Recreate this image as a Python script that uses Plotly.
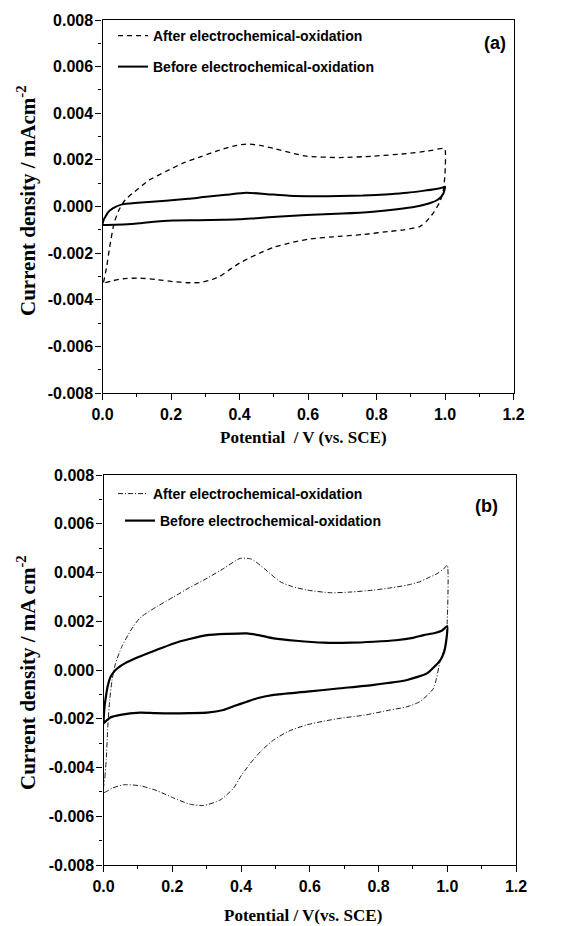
import plotly.graph_objects as go

# ---------------- data ----------------
# panel (a)
V_after_a = [0.003, 0.012, 0.021, 0.034, 0.048, 0.066, 0.094, 0.137, 0.185, 0.235, 0.29, 0.342, 0.38, 0.42,
             0.46, 0.5, 0.55, 0.595, 0.692, 0.79, 0.887, 0.95, 0.994, 1.0, 1.0, 0.995, 0.985, 0.965, 0.945,
             0.926, 0.88, 0.838, 0.76, 0.692, 0.6, 0.546, 0.5, 0.459, 0.43, 0.40, 0.37, 0.342, 0.31, 0.284,
             0.25, 0.206, 0.16, 0.109, 0.06, 0.025, 0.003]
J_after_a = [-0.00325, -0.0026, -0.00173, -0.00071, -0.00015, 0.00028, 0.00064, 0.00114, 0.0015, 0.00186,
             0.00215, 0.00242, 0.00258, 0.00268, 0.00262, 0.00249, 0.0023, 0.00216, 0.0021, 0.00216, 0.00227,
             0.00238, 0.00249, 0.00245, 0.0014, 0.0007, 0.0002, -0.00029, -0.00065, -0.00086, -0.001,
             -0.00107, -0.0012, -0.00128, -0.0014, -0.00157, -0.00175, -0.002, -0.0022, -0.00243, -0.00272,
             -0.003, -0.00318, -0.00326, -0.00327, -0.00322, -0.00314, -0.00307, -0.0031, -0.0032, -0.00329]

V_before_a = [0.0, 0.004, 0.01, 0.016, 0.03, 0.057, 0.103, 0.185, 0.25, 0.303, 0.36, 0.42, 0.48, 0.546, 0.62,
              0.692, 0.76, 0.838, 0.89, 0.935, 0.969, 0.99, 1.0, 0.995, 0.98, 0.955, 0.916, 0.86, 0.79, 0.7,
              0.595, 0.52, 0.449, 0.4, 0.352, 0.28, 0.206, 0.15, 0.109, 0.06, 0.012, 0.0]
J_before_a = [-0.00075, -0.00055, -0.0004, -0.00025, -0.00008, 0.00009, 0.00016, 0.00025, 0.00033, 0.00042,
              0.0005, 0.00059, 0.00053, 0.00046, 0.00044, 0.00045, 0.00047, 0.00053, 0.00059, 0.00067,
              0.00074, 0.0008, 0.00085, 0.00055, 0.0003, 0.00014, 0.0, -0.00012, -0.00022, -0.0003,
              -0.00036, -0.00043, -0.0005, -0.00055, -0.00057, -0.00059, -0.0006, -0.00065, -0.00072,
              -0.00077, -0.00079, -0.00079]

# panel (b)
V_after_b = [0.0, 0.004, 0.008, 0.012, 0.018, 0.025, 0.035, 0.053, 0.08, 0.107, 0.155, 0.204, 0.25, 0.301,
             0.35, 0.398, 0.43, 0.456, 0.485, 0.514, 0.55, 0.592, 0.66, 0.72, 0.786, 0.84, 0.883, 0.92,
             0.941, 0.97, 0.99, 1.0, 1.0, 0.995, 0.98, 0.96, 0.92, 0.88, 0.834, 0.76, 0.689, 0.64, 0.592,
             0.54, 0.495, 0.46, 0.427, 0.4, 0.378, 0.34, 0.291, 0.25, 0.204, 0.155, 0.107, 0.058, 0.025, 0.0]
J_after_b = [-0.00503, -0.0044, -0.00369, -0.00246, -0.00123, -0.00041, 0.00027, 0.00095, 0.00164, 0.00215,
             0.0026, 0.003, 0.00338, 0.00376, 0.00417, 0.00458, 0.00455, 0.0043, 0.00395, 0.00362, 0.00342,
             0.00328, 0.00317, 0.0032, 0.00328, 0.00338, 0.00348, 0.00362, 0.00376, 0.00395, 0.00415,
             0.0043, 0.002, 0.001, 0.00041, -0.00075, -0.0013, -0.00152, -0.00164, -0.00185, -0.00198,
             -0.0021, -0.00225, -0.0025, -0.00287, -0.0033, -0.00383, -0.00435, -0.00485, -0.00533,
             -0.00556, -0.0055, -0.00525, -0.00495, -0.00475, -0.00471, -0.00485, -0.00503]

V_before_b = [0.0, 0.003, 0.007, 0.012, 0.021, 0.035, 0.062, 0.1, 0.15, 0.204, 0.25, 0.301, 0.36, 0.417,
              0.455, 0.495, 0.56, 0.64, 0.72, 0.786, 0.85, 0.9, 0.931, 0.964, 0.985, 1.0, 0.997, 0.99, 0.98,
              0.96, 0.941, 0.883, 0.786, 0.689, 0.592, 0.495, 0.45, 0.417, 0.38, 0.349, 0.301, 0.25, 0.204,
              0.15, 0.107, 0.049, 0.02, 0.0]
J_before_b = [-0.0021, -0.0015, -0.00109, -0.00068, -0.00027, 0.0, 0.00027, 0.00052, 0.0008, 0.00109,
              0.00127, 0.00143, 0.00148, 0.0015, 0.00142, 0.0013, 0.0012, 0.00112, 0.00112, 0.00116,
              0.00122, 0.00132, 0.00143, 0.00152, 0.00162, 0.0018, 0.0012, 0.0007, 0.00041, 0.0001,
              -0.00014, -0.00041, -0.00061, -0.00075, -0.00089, -0.00102, -0.00115, -0.0013, -0.00148,
              -0.00164, -0.00175, -0.00177, -0.00178, -0.00177, -0.00175, -0.00184, -0.00195, -0.00219]

legend_after = "After electrochemical-oxidation"
legend_before = "Before electrochemical-oxidation"

x_tick_vals = [0.0, 0.2, 0.4, 0.6, 0.8, 1.0, 1.2]
x_tick_labels = ["0.0", "0.2", "0.4", "0.6", "0.8", "1.0", "1.2"]
y_tick_vals = [-0.008, -0.006, -0.004, -0.002, 0.0, 0.002, 0.004, 0.006, 0.008]
y_tick_labels = ["-0.008", "-0.006", "-0.004", "-0.002", "0.000", "0.002", "0.004", "0.006", "0.008"]

# ---------------- layout helpers ----------------
# the page body adds an 8px margin, so the figure is drawn 8px smaller and all
# screen positions are shifted by that margin
W, H = 561, 918
OFF = 8
def fx(p):
    return (p - OFF) / W
def fy(p):
    return 1 - (p - OFF) / H

SANS = "Liberation Sans, Arial, sans-serif"
SERIF = "Liberation Serif, Times New Roman, serif"

fig = go.Figure()

fig.add_trace(go.Scatter(x=V_after_a, y=J_after_a, mode="lines", name=legend_after,
                         line=dict(color="black", width=1.3, dash="5px,4px", shape="spline", smoothing=0.6),
                         xaxis="x", yaxis="y", legend="legend"))
fig.add_trace(go.Scatter(x=V_before_a, y=J_before_a, mode="lines", name=legend_before,
                         line=dict(color="black", width=2, shape="spline", smoothing=0.6),
                         xaxis="x", yaxis="y", legend="legend2"))
fig.add_trace(go.Scatter(x=V_after_b, y=J_after_b, mode="lines", name=legend_after,
                         line=dict(color="black", width=0.9, dash="5px,2px,1px,2px", shape="spline", smoothing=0.6),
                         xaxis="x2", yaxis="y2", legend="legend3"))
fig.add_trace(go.Scatter(x=V_before_b, y=J_before_b, mode="lines", name=legend_before,
                         line=dict(color="black", width=2.2, shape="spline", smoothing=0.6),
                         xaxis="x2", yaxis="y2", legend="legend4"))

def xaxis_cfg(domain, anchor):
    return dict(domain=domain, anchor=anchor, range=[0, 1.2], tickvals=x_tick_vals, ticktext=x_tick_labels,
                ticks="outside", ticklen=6, tickwidth=1.2, tickcolor="black",
                minor=dict(ticks="outside", ticklen=3, dtick=0.1, tickcolor="black", tickwidth=1),
                showline=True, linecolor="black", linewidth=1.3, mirror=True,
                showgrid=False, zeroline=False, automargin=False, ticklabelstandoff=1,
                tickfont=dict(family=SANS, size=16, color="black", weight="bold"))

def yaxis_cfg(domain, anchor):
    return dict(domain=domain, anchor=anchor, range=[-0.008, 0.008], tickvals=y_tick_vals, ticktext=y_tick_labels,
                ticks="outside", ticklen=6, tickwidth=1.2, tickcolor="black",
                minor=dict(ticks="outside", ticklen=3, dtick=0.001, tickcolor="black", tickwidth=1),
                showline=True, linecolor="black", linewidth=1.3, mirror=True,
                showgrid=False, zeroline=False, automargin=False, ticklabelstandoff=-1,
                tickfont=dict(family=SANS, size=16, color="black", weight="bold"))

leg_common = dict(bgcolor="rgba(0,0,0,0)", borderwidth=0, xanchor="left", yanchor="middle",
                  font=dict(family=SANS, size=14, color="black", weight="bold"))

fig.update_layout(
    width=W, height=H,
    margin=dict(l=0, r=0, t=0, b=0),
    paper_bgcolor="white", plot_bgcolor="white",
    showlegend=True,
    xaxis=xaxis_cfg([fx(102.5), fx(513.5)], "y"),
    yaxis=yaxis_cfg([fy(393), fy(20)], "x"),
    xaxis2=xaxis_cfg([fx(103.5), fx(516)], "y2"),
    yaxis2=yaxis_cfg([fy(865), fy(475)], "x2"),
    legend=dict(x=fx(113), y=fy(36), **leg_common),
    legend2=dict(x=fx(113), y=fy(67), **leg_common),
    legend3=dict(x=fx(113), y=fy(494), **leg_common),
    legend4=dict(x=fx(120), y=fy(521), **leg_common),
)

annos = [
    dict(text="(a)", x=fx(495), y=fy(43), font=dict(family=SANS, size=18, color="black", weight="bold")),
    dict(text="(b)", x=fx(486), y=fy(506), font=dict(family=SANS, size=18, color="black", weight="bold")),
    dict(text="Current density / mAcm<sup>-2</sup>", x=fx(26), y=fy(201), textangle=-90,
         font=dict(family=SERIF, size=21, color="black", weight="bold")),
    dict(text="Current density / mA cm<sup>-2</sup>", x=fx(26), y=fy(673), textangle=-90,
         font=dict(family=SERIF, size=21, color="black", weight="bold")),
    dict(text="Potential\u00a0 / V (vs. SCE)", x=fx(303), y=fy(437),
         font=dict(family=SERIF, size=17, color="black", weight="bold")),
    dict(text="Potential / V(vs. SCE)", x=fx(303), y=fy(915),
         font=dict(family=SERIF, size=17, color="black", weight="bold")),
]
for a in annos:
    fig.add_annotation(xref="paper", yref="paper", xanchor="center", yanchor="middle", showarrow=False, **a)

fig.write_html("out.html")
